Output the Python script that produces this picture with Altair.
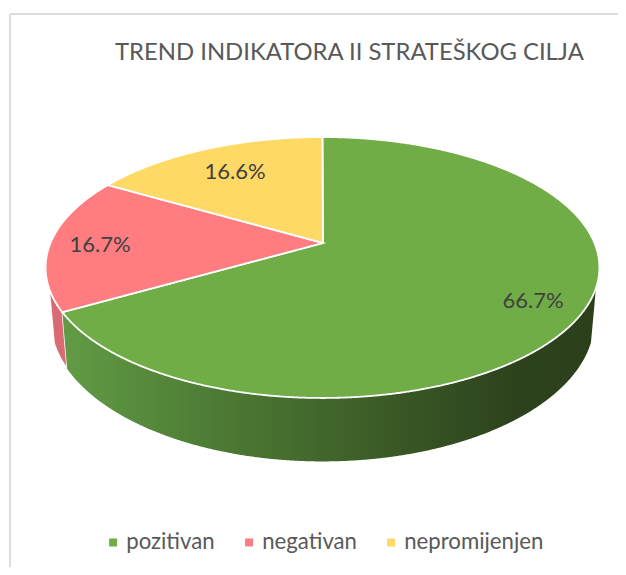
import math
import numpy as np
import pandas as pd
import altair as alt

TITLE = "TREND INDIKATORA II STRATEŠKOG CILJA"
categories = ["pozitivan", "negativan", "nepromijenjen"]
shares = [66.7, 16.7, 16.6]
labels = ["66.7%", "16.7%", "16.6%"]
colors = ["#70AD47", "#FF7C80", "#FFD966"]
label_x = [533, 100, 235]
label_y = [301, 245, 172]

FONT = "Lato"
TOP_PAD = 60
W, H = 610, 559 - TOP_PAD

# tilted-disc view of the pie
CX, K = 322.5, 0.1877
TOP_RIM = dict(cy=243, a=272, b=125.9)
BOTTOM_RIM = dict(cy=294, a=267, b=136)
WALL_LIMIT = 19.6  # side wall shows this many degrees past the horizontal


def rim(theta, cy, a, b):
    t = math.radians(float(theta))
    u, v = math.sin(t), -math.cos(t)
    d = 1 - K * v
    return CX + a * u / d, cy + b * v / d


def arc(t0, t1, r, n=160):
    return [rim(t, **r) for t in np.linspace(t0, t1, n)]


def band(poly):
    """Turn a polygon into x / top / low rows an area mark can draw."""
    xs_v = [p[0] for p in poly]
    lo, hi = min(xs_v), max(xs_v)
    grid = np.unique(np.concatenate([
        np.linspace(lo + 1e-3, hi - 1e-3, 420),
        np.array(xs_v) - 1e-3, np.array(xs_v) + 1e-3]))
    rows = []
    edges = list(zip(poly, poly[1:] + poly[:1]))
    for x in grid:
        ys = []
        for (x0, y0), (x1, y1) in edges:
            if (x0 <= x < x1) or (x1 <= x < x0):
                ys.append(y0 + (x - x0) * (y1 - y0) / (x1 - x0))
        if len(ys) >= 2:
            rows.append((float(x), float(min(ys)), float(max(ys))))
    return rows


def frame(poly, name):
    df = pd.DataFrame(band(poly), columns=["px", "ytop", "ylow"])
    df["cat"] = name
    return df


cum = np.cumsum([0] + shares) / sum(shares) * 360
apex = (323, TOP_RIM["cy"])

surfaces = pd.concat([
    frame([apex] + arc(cum[i], cum[i + 1], TOP_RIM), categories[i]) for i in range(3)
], ignore_index=True)

g_end = 90 + WALL_LIMIT
r_end = 270 - WALL_LIMIT
green_wall = frame(arc(g_end, cum[1], TOP_RIM) + arc(cum[1], g_end, BOTTOM_RIM), "w")
red_wall = frame(arc(cum[1], r_end, TOP_RIM) + arc(r_end, cum[1], BOTTOM_RIM), "r")

x_scale = alt.Scale(domain=[8, 618], range=[0, W], nice=False, zero=False)
y_scale = alt.Scale(domain=[8 + TOP_PAD, 567], range=[0, H], nice=False, zero=False)
x_enc = alt.X("px:Q", axis=None, scale=x_scale)
y_enc = alt.Y("ytop:Q", axis=None, scale=y_scale)
y2_enc = alt.Y2("ylow:Q")

green_grad = alt.Gradient(
    gradient="linear",
    x1=0, x2=1, y1=0, y2=0,
    stops=[
        alt.GradientStop(color="#629B45", offset=0),
        alt.GradientStop(color="#4F7F36", offset=0.25),
        alt.GradientStop(color="#3E6029", offset=0.55),
        alt.GradientStop(color="#2C421C", offset=0.85),
        alt.GradientStop(color="#2B3F1B", offset=1),
    ],
)

wall_g = alt.Chart(green_wall).mark_area(color=green_grad).encode(
    x=x_enc, y=y_enc, y2=y2_enc)
wall_r = alt.Chart(red_wall).mark_area(color="#DB6B73", stroke="white", strokeWidth=1.5).encode(
    x=x_enc, y=y_enc, y2=y2_enc)

top = alt.Chart(surfaces).mark_area(stroke="white", strokeWidth=1.8).encode(
    x=x_enc, y=y_enc, y2=y2_enc,
    color=alt.Color(
        "cat:N",
        scale=alt.Scale(domain=categories, range=colors),
        legend=alt.Legend(
            title=None, orient="none", direction="horizontal", columns=3,
            legendX=94, legendY=531 - 8 - TOP_PAD,
            symbolType="square", symbolSize=64, symbolStrokeWidth=0,
            labelFont=FONT, labelFontSize=22.2, labelColor="#595959",
            columnPadding=23, labelOffset=2,
        ),
    ),
)

text = alt.Chart(pd.DataFrame({"px": label_x, "ytop": label_y, "t": labels})).mark_text(
    font=FONT, fontSize=22, color="#404040", align="center", baseline="middle"
).encode(x=x_enc, y=y_enc, text="t:N")

border_top = alt.Chart(pd.DataFrame({"k": [0]})).mark_rule(
    color="#DDDDDD", strokeWidth=2, clip=False
).encode(x=alt.value(2), x2=alt.value(W), y=alt.value(14 - 8 - TOP_PAD))
border_left = alt.Chart(pd.DataFrame({"k": [0]})).mark_rule(
    color="#DDDDDD", strokeWidth=2, clip=False
).encode(x=alt.value(2), y=alt.value(14 - 8 - TOP_PAD), y2=alt.value(H))

chart = alt.layer(border_top, border_left, wall_r, wall_g, top, text).properties(
    width=W,
    height=H,
    title=alt.TitleParams(
        TITLE, anchor="start", frame="group", dx=107, dy=55, offset=3,
        font=FONT, fontSize=23.85, fontWeight="normal", color="#595959",
    ),
    autosize=alt.AutoSizeParams(type="none"),
    padding={"left": 0, "top": TOP_PAD, "right": 0, "bottom": 0},
    background="white",
).configure_view(stroke=None)

chart.save("out.html", embed_options={"renderer": "svg", "actions": False})
